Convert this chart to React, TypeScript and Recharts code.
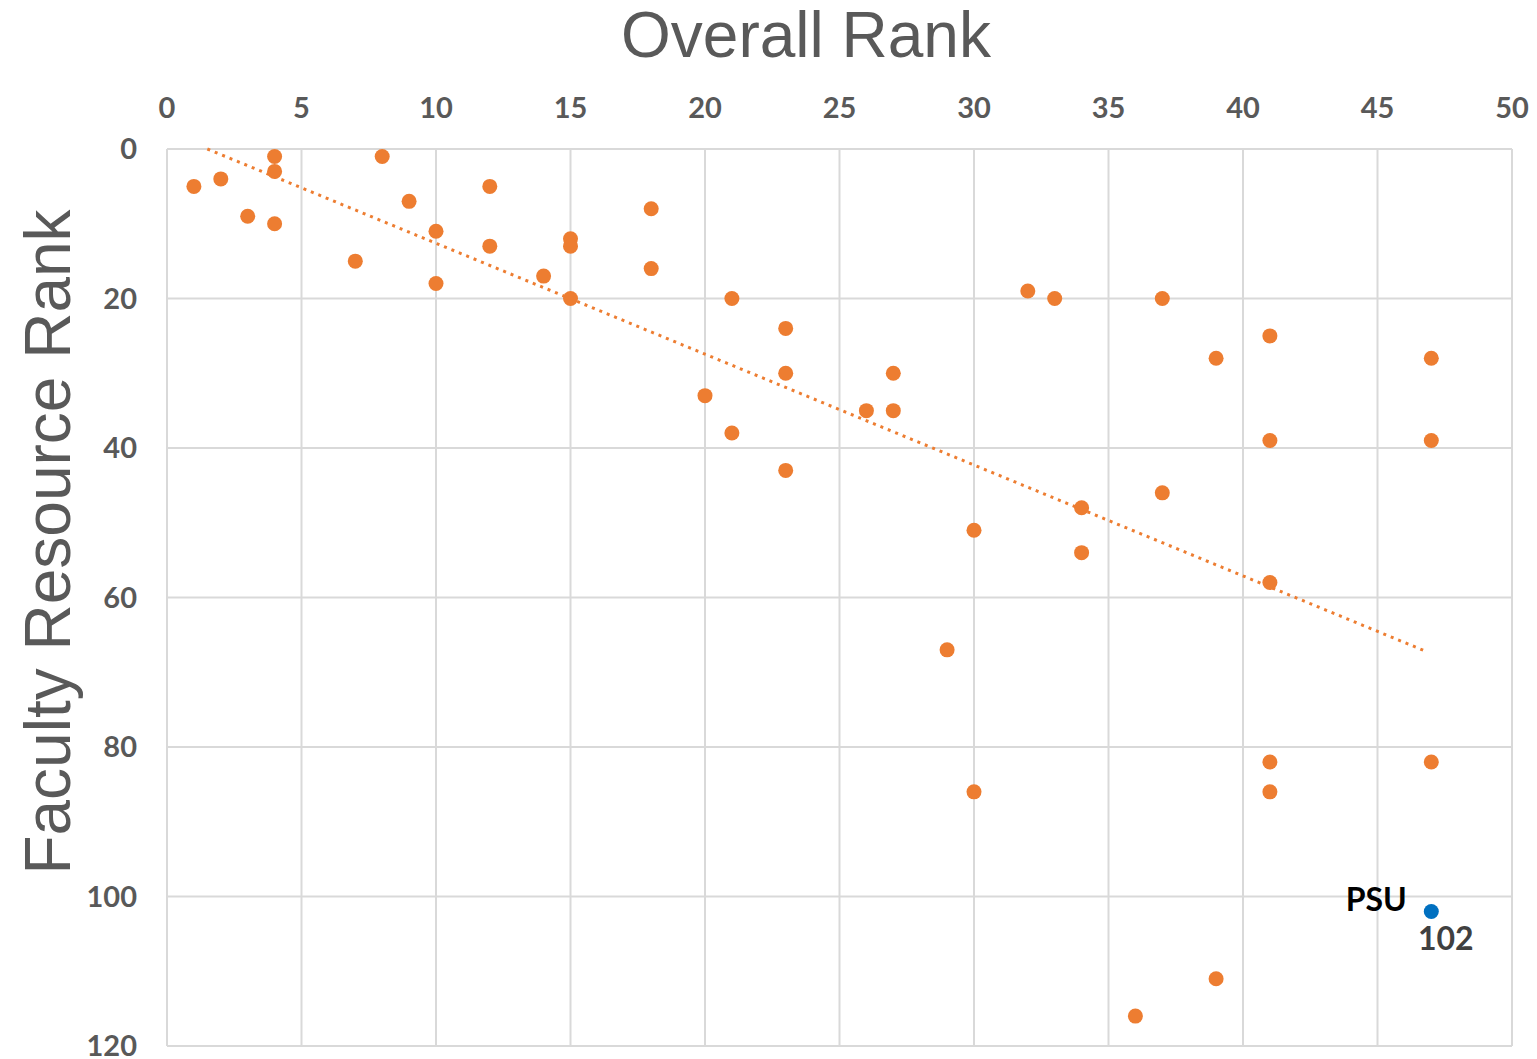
import { CartesianGrid, Scatter, ScatterChart, XAxis, YAxis, LabelList } from "recharts";

// overall rank vs faculty resource rank
const overallRank = [
  1, 2, 3, 4, 4, 4, 7, 8, 9, 10, 10, 12, 12, 14, 15, 15, 15, 18, 18, 20, 21, 21, 23, 23, 23,
  26, 27, 27, 29, 30, 30, 32, 33, 34, 34, 36, 37, 37, 39, 39, 41, 41, 41, 41, 41, 47, 47, 47,
];
const facultyRank = [
  5, 4, 9, 1, 3, 10, 15, 1, 7, 11, 18, 5, 13, 17, 12, 13, 20, 8, 16, 33, 20, 38, 24, 30, 43,
  35, 30, 35, 67, 51, 86, 19, 20, 48, 54, 116, 20, 46, 28, 111, 25, 39, 58, 82, 86, 28, 39, 82,
];

const psuOverall = [47];
const psuFaculty = [102];
const psuName = ["PSU"];

// dotted linear trendline endpoints
const trendX = [1.5, 46.8];
const trendY = [0, 67.2];

const xTicks = [0, 5, 10, 15, 20, 25, 30, 35, 40, 45, 50];
const yTicks = [0, 20, 40, 60, 80, 100, 120];

const schools = overallRank.map((x, i) => ({ x, y: facultyRank[i] }));
const psu = psuOverall.map((x, i) => ({ x, y: psuFaculty[i], name: psuName[i] }));
const trend = trendX.map((x, i) => ({ x, y: trendY[i] }));

const ORANGE = "#ED7D31";
const BLUE = "#0070C0";
const GRAY = "#595959";
const tickStyle = { fontFamily: "Lato, 'Open Sans', sans-serif", fontWeight: 700, fontSize: 29, fill: GRAY };

const noShape = () => <g />;

const PsuLabels = (props: any) => {
  const { x, y, value } = props;
  return (
    <g>
      <text x={x - 20} y={y} textAnchor="end" dy={4} fill="#000" fontFamily="Lato, sans-serif" fontWeight={700} fontSize={32}>
        {value}
      </text>
      <text x={x + 19} y={y + 43} textAnchor="middle" fill="#404040" fontFamily="Lato, sans-serif" fontWeight={700} fontSize={32}>
        {psuFaculty[0]}
      </text>
    </g>
  );
};

export default function App() {
  return (
    <div style={{ position: "absolute", left: 0, top: 0, width: 1537, height: 1059, background: "#fff" }}>
      <div
        style={{
          position: "absolute",
          left: 0,
          top: 0,
          width: 1612,
          textAlign: "center",
          fontFamily: "'Liberation Sans', Arial, sans-serif",
          fontSize: 64,
          color: GRAY,
          lineHeight: "70px",
        }}
      >
        Overall Rank
      </div>
      <div
        style={{
          position: "absolute",
          left: 48,
          top: 542,
          transform: "translate(-50%, -50%) rotate(-90deg)",
          whiteSpace: "nowrap",
          fontFamily: "'Liberation Sans', Arial, sans-serif",
          fontSize: 64,
          color: GRAY,
          lineHeight: "70px",
        }}
      >
        Faculty Resource Rank
      </div>
      <ScatterChart
        width={1537}
        height={1059}
        margin={{ top: 70, right: 25, bottom: 13, left: 87 }}
        style={{ position: "absolute", left: 0, top: 0 }}
      >
        <CartesianGrid stroke="#d9d9d9" strokeWidth={2} />
        <XAxis
          type="number"
          dataKey="x"
          orientation="top"
          domain={[0, 50]}
          ticks={xTicks}
          height={79}
          axisLine={{ stroke: "#d9d9d9", strokeWidth: 2 }}
          tickLine={false}
          tickSize={0}
          tickMargin={31}
          tick={tickStyle}
          interval={0}
        />
        <YAxis
          type="number"
          dataKey="y"
          reversed
          domain={[0, 120]}
          ticks={yTicks}
          width={80}
          axisLine={{ stroke: "#d9d9d9", strokeWidth: 2 }}
          tickLine={false}
          tickSize={0}
          tickMargin={30}
          tick={tickStyle}
          interval={0}
        />
        <Scatter
          data={trend}
          shape={noShape}
          line={{ stroke: ORANGE, strokeWidth: 3, strokeDasharray: "3 5" }}
          isAnimationActive={false}
        />
        <Scatter
          data={schools}
          fill={ORANGE}
          shape={(p: any) => <circle cx={p.cx} cy={p.cy} r={7.5} fill={ORANGE} />}
          isAnimationActive={false}
        />
        <Scatter
          data={psu}
          fill={BLUE}
          shape={(p: any) => <circle cx={p.cx} cy={p.cy} r={7.5} fill={BLUE} />}
          isAnimationActive={false}
        >
          <LabelList dataKey="name" content={PsuLabels} />
        </Scatter>
      </ScatterChart>
    </div>
  );
}
